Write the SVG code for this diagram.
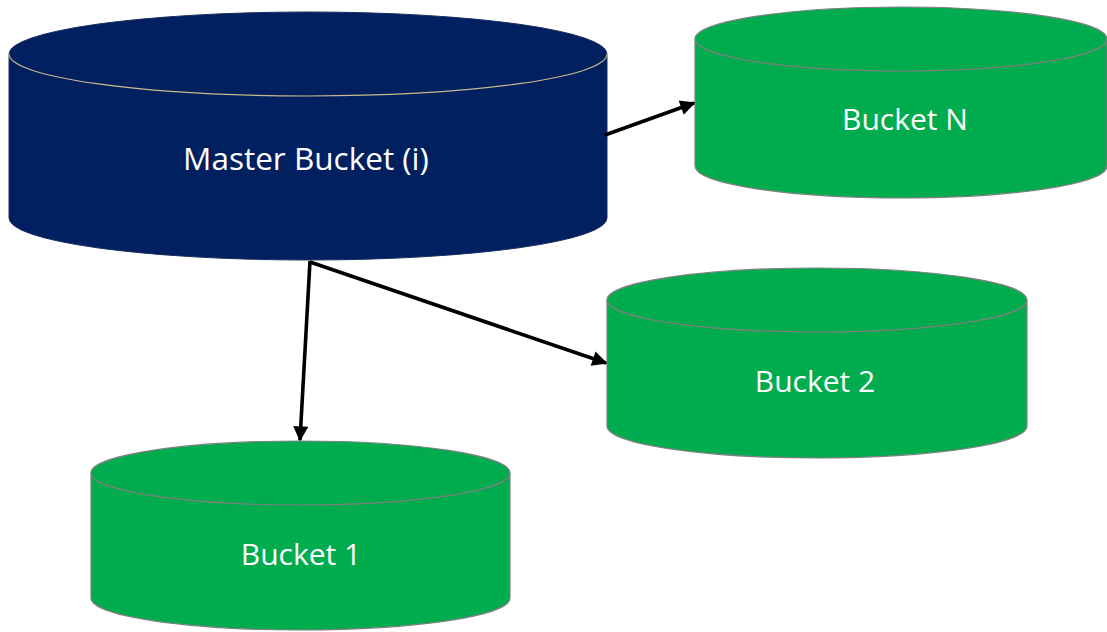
<svg xmlns="http://www.w3.org/2000/svg" width="1107" height="632" viewBox="0 0 1107 632">
  <defs>
    <style>
      .master-body { fill: #002060; stroke: #1a2f60; stroke-width: 1; }
      .master-rim { fill: none; stroke: #c9b98e; stroke-width: 1.2; }
      .bucket-body { fill: #00ac4e; stroke: #7f7f7f; stroke-width: 1.2; }
      .bucket-rim { fill: none; stroke: #7f7f7f; stroke-width: 1.2; }
      .label { fill: #ffffff; font-family: "Open Sans", "Noto Sans", sans-serif; font-size: 30px; text-anchor: middle; }
      .label-lg { font-size: 31.5px; }
      .link { stroke: #000000; stroke-width: 3.6; fill: none; }
    </style>
    <marker id="arrow" viewBox="0 0 10 10" refX="9" refY="5" markerWidth="4.6" markerHeight="4.2" markerUnits="strokeWidth" orient="auto">
      <path d="M0,0 L10,5 L0,10 z" fill="#000000"/>
    </marker>
  </defs>

  <rect width="1107" height="632" fill="#ffffff"/>

  <!-- cylinder: top ellipse at cy1, bottom at cy2 -->
  <g id="master-bucket">
    <path class="master-body" d="M9,54 A299,42 0 0 1 607,54 L607,218 A299,42 0 0 1 9,218 Z"/>
    <path class="master-rim" d="M9,54 A299,42 0 0 0 607,54"/>
    <text class="label label-lg" x="306" y="170">Master Bucket (i)</text>
  </g>

  <g id="bucket-n">
    <path class="bucket-body" d="M695,39 A206,32 0 0 1 1107,39 L1107,166 A206,32 0 0 1 695,166 Z"/>
    <path class="bucket-rim" d="M695,39 A206,32 0 0 0 1107,39"/>
    <text class="label" x="905" y="130">Bucket N</text>
  </g>

  <g id="bucket-2">
    <path class="bucket-body" d="M607,300 A210,32 0 0 1 1027,300 L1027,426 A210,32 0 0 1 607,426 Z"/>
    <path class="bucket-rim" d="M607,300 A210,32 0 0 0 1027,300"/>
    <text class="label" x="815" y="392">Bucket 2</text>
  </g>

  <g id="bucket-1">
    <path class="bucket-body" d="M91,473 A209.5,32 0 0 1 510,473 L510,598 A209.5,32 0 0 1 91,598 Z"/>
    <path class="bucket-rim" d="M91,473 A209.5,32 0 0 0 510,473"/>
    <text class="label" x="301" y="565">Bucket 1</text>
  </g>

  <g id="connectors">
    <line class="link" x1="605" y1="135" x2="694" y2="103" marker-end="url(#arrow)"/>
    <line class="link" x1="310" y1="261" x2="300" y2="440" marker-end="url(#arrow)"/>
    <line class="link" x1="310" y1="262" x2="606" y2="363" marker-end="url(#arrow)"/>
  </g>
</svg>
